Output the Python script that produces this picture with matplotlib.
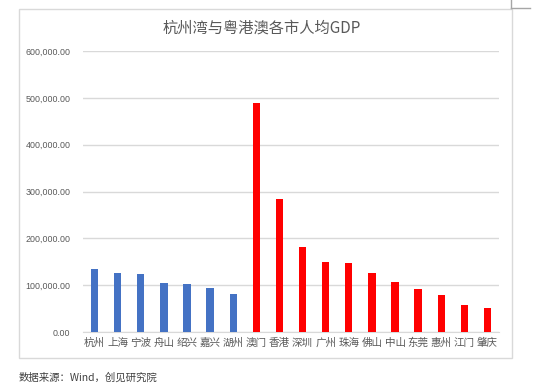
import numpy as np
import matplotlib.pyplot as plt
from matplotlib.patches import Rectangle
from matplotlib.lines import Line2D

plt.rcParams['font.family'] = ['Noto Sans CJK SC', 'DejaVu Sans']

# data
cities = ['杭州', '上海', '宁波', '舟山', '绍兴', '嘉兴', '湖州',
          '澳门', '香港', '深圳', '广州', '珠海', '佛山', '中山',
          '东莞', '惠州', '江门', '肇庆']
gdp_per_capita = [133700, 125000, 123600, 104000, 101500, 93600, 82000,
                  490000, 285000, 182000, 150000, 148000, 126600, 105800,
                  90800, 79400, 58600, 52000]
group = ['hz'] * 7 + ['gba'] * 11
yticks = [0, 100000, 200000, 300000, 400000, 500000, 600000]

colors = {'hz': '#4472C4', 'gba': '#FF0000'}
W, H = 550, 388

fig = plt.figure(figsize=(5.5, 3.88), dpi=100)
fig.patch.set_facecolor('white')

# chart frame
fig.patches.append(Rectangle((19 / W, 1 - 358 / H), (512 - 19) / W, (358 - 9) / H,
                             transform=fig.transFigure, fill=False,
                             edgecolor='#D9D9D9', linewidth=1))
fig.lines.append(Line2D([511 / W, 511 / W], [1, 1 - 8 / H], transform=fig.transFigure,
                        color='#A6A6A6', linewidth=1))
fig.lines.append(Line2D([511 / W, 530 / W], [1 - 8 / H, 1 - 8 / H], transform=fig.transFigure,
                        color='#A6A6A6', linewidth=1))

ax = fig.add_axes([83 / W, 1 - 332 / H, (499 - 83) / W, (332 - 51) / H])
x = np.arange(len(cities))
ax.bar(x, gdp_per_capita, width=0.32, color=[colors[g] for g in group], zorder=3)

ax.set_xlim(-0.5, len(cities) - 0.5)
ax.set_ylim(0, 600000)
ax.set_yticks(yticks)
ax.set_yticklabels([f'{v:,.2f}' for v in yticks], fontsize=6.4,
                   family=['Liberation Sans', 'DejaVu Sans'], color='#595959')
ax.set_xticks(x)
ax.set_xticklabels(cities, fontsize=7.6, color='#595959')
ax.tick_params(length=0)
ax.tick_params(axis='y', pad=9)
ax.tick_params(axis='x', pad=4)
ax.grid(axis='y', color='#D9D9D9', linewidth=1, zorder=0)
for s in ['top', 'right', 'left']:
    ax.spines[s].set_visible(False)
ax.spines['bottom'].set_color('#D9D9D9')

fig.text(262 / W, 1 - 28 / H, '杭州湾与粤港澳各市人均GDP', ha='center', va='center',
         fontsize=11, color='#595959')
fig.text(19 / W, 1 - 378 / H, '数据来源：Wind，创见研究院', ha='left', va='center',
         fontsize=7.5, color='#404040')

fig.savefig('out.png', dpi=100)
